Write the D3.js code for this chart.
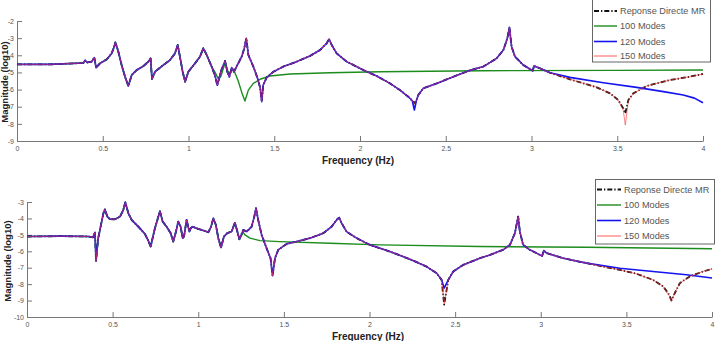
<!DOCTYPE html>
<html>
<head>
<meta charset="utf-8">
<script src="https://cdn.jsdelivr.net/npm/d3@7/dist/d3.min.js"></script>
<style>
  body { margin: 0; background: #fff; }
  svg { display: block; font-family: "Liberation Sans", Arial, sans-serif; }
</style>
</head>
<body>
<div id="chart"></div>
<script>
// Series names, in legend order
const seriesNames = ["Reponse Directe MR", "100 Modes", "120 Modes", "150 Modes"];

// Tick values
const freqTicks = [0, 0.5, 1, 1.5, 2, 2.5, 3, 3.5, 4];
const topMagTicks = [-9, -8, -7, -6, -5, -4, -3, -2];
const bottomMagTicks = [-10, -9, -8, -7, -6, -5, -4, -3];

// ---- Top plot: [frequency (Hz), magnitude (log10)] ----
// part common to all the responses
const topShared = [
  [0, -4.53], [0.19, -4.53], [0.387, -4.45], [0.397, -4.3], [0.41, -4.42], [0.435, -4.37],
  [0.451, -4.14], [0.461, -4.72], [0.484, -4.47], [0.523, -4.24], [0.552, -3.89], [0.565, -3.55],
  [0.573, -3.25], [0.582, -3.5], [0.591, -3.79], [0.61, -4.57], [0.63, -5.25], [0.649, -5.79],
  [0.669, -5.15], [0.698, -4.86], [0.737, -4.63], [0.766, -4.37], [0.779, -4.18], [0.787, -5.38],
  [0.805, -4.96], [0.853, -4.57], [0.892, -4.28], [0.921, -3.89], [0.937, -3.4], [0.95, -4.08],
  [0.966, -4.96], [0.98, -5.54], [0.999, -4.96], [1.038, -4.47], [1.067, -4.08], [1.086, -3.59],
  [1.106, -3.98], [1.135, -4.66], [1.155, -5.2], [1.168, -5.75], [1.19, -4.9], [1.213, -4.33],
  [1.226, -4.96], [1.238, -5.25], [1.252, -4.72], [1.265, -4.96], [1.29, -4.47], [1.31, -4.08],
  [1.325, -3.6], [1.337, -3.01], [1.349, -3.98], [1.378, -4.66], [1.403, -5.35], [1.418, -5.9],
  [1.427, -6.71], [1.436, -5.73], [1.456, -5.29], [1.495, -4.96], [1.553, -4.66], [1.631, -4.37],
  [1.708, -4.04], [1.767, -3.69], [1.806, -3.3], [1.819, -3.05], [1.835, -3.4], [1.864, -3.89],
  [1.922, -4.37], [2.019, -4.86], [2.097, -5.21], [2.175, -5.64], [2.233, -6.03], [2.282, -6.42],
  [2.305, -6.65]
];
const topShared2 = [
  [2.33, -6.6], [2.34, -6.32], [2.369, -5.93], [2.447, -5.64], [2.544, -5.25], [2.641, -4.88],
  [2.719, -4.66], [2.797, -4.18], [2.836, -3.69], [2.859, -3.01], [2.871, -2.37], [2.884, -3.5],
  [2.904, -4.08], [2.952, -4.57], [3.0, -4.86], [3.008, -4.9], [3.014, -4.62], [3.03, -4.68],
  [3.059, -4.8], [3.108, -5.02]
];
// anti-resonance near 2.32 Hz
const topDip = { direct: [2.317, -6.8], m120: [2.317, -7.19], m150: [2.317, -6.85] };
const topDirectTail = [
  [3.224, -5.4], [3.38, -5.87], [3.458, -6.22], [3.506, -6.61], [3.535, -7.1], [3.547, -7.39],
  [3.565, -6.61], [3.594, -6.22], [3.672, -5.79], [3.808, -5.44], [3.924, -5.25], [4.0, -5.09]
];
const top150Tail = [
  [3.224, -5.4], [3.38, -5.87], [3.458, -6.22], [3.506, -6.63], [3.535, -7.2], [3.547, -8.07],
  [3.565, -6.63], [3.594, -6.22], [3.672, -5.79], [3.808, -5.44], [3.924, -5.25], [4.0, -5.09]
];
const top120Tail = [
  [3.224, -5.29], [3.419, -5.6], [3.613, -5.87], [3.769, -6.12], [3.885, -6.32], [3.95, -6.5], [4.0, -6.77]
];
const top100Tail = [
  [1.155, -5.0], [1.175, -5.4], [1.19, -5.2], [1.205, -4.7], [1.215, -4.45], [1.23, -4.95],
  [1.245, -5.05], [1.258, -4.8], [1.27, -5.0], [1.29, -5.5], [1.31, -6.15], [1.329, -6.67],
  [1.349, -6.03], [1.378, -5.64], [1.417, -5.4], [1.475, -5.21], [1.592, -5.09], [1.825, -5.02],
  [2.117, -4.96], [2.7, -4.9], [3.5, -4.88], [4.0, -4.86]
];

// ---- Bottom plot ----
const bottomShared = [
  [0, -5.1], [0.2, -5.08], [0.36, -5.1], [0.385, -5.15], [0.397, -4.85], [0.403, -6.58],
  [0.409, -5.9], [0.416, -5.2], [0.436, -4.19], [0.446, -3.69], [0.455, -3.45], [0.469, -3.89],
  [0.485, -4.05], [0.514, -4.05], [0.543, -3.89], [0.562, -3.49], [0.574, -3.02], [0.592, -3.69],
  [0.611, -4.09], [0.65, -4.5], [0.689, -4.95], [0.708, -5.35], [0.722, -5.71], [0.747, -4.6],
  [0.767, -3.89], [0.776, -3.55], [0.792, -4.19], [0.815, -4.5], [0.839, -4.9], [0.854, -5.41],
  [0.87, -4.8], [0.883, -4.19], [0.897, -4.5], [0.909, -5.2], [0.917, -5.1], [0.932, -4.09],
  [0.948, -4.8], [0.956, -4.6], [0.967, -4.5], [1.0, -4.64], [1.039, -4.76], [1.059, -4.84],
  [1.075, -4.5], [1.088, -3.99], [1.103, -4.4], [1.117, -5.2], [1.133, -5.77], [1.15, -5.1],
  [1.169, -4.9], [1.195, -4.8], [1.214, -4.26], [1.226, -4.7], [1.24, -5.27], [1.263, -4.7],
  [1.283, -4.8], [1.312, -4.5], [1.327, -3.9], [1.337, -3.38], [1.35, -4.09], [1.37, -5.0],
  [1.399, -5.81], [1.422, -6.42], [1.434, -7.49], [1.448, -6.42], [1.467, -5.91], [1.516, -5.55],
  [1.574, -5.41], [1.652, -5.2], [1.73, -4.9], [1.779, -4.5], [1.808, -4.09], [1.823, -3.95],
  [1.837, -4.29], [1.866, -4.8], [1.925, -5.2], [2.002, -5.61], [2.119, -6.02], [2.236, -6.48],
  [2.333, -6.93], [2.392, -7.33], [2.421, -7.74]
];
const bottomShared2 = [
  [2.46, -7.74], [2.489, -7.23], [2.547, -6.83], [2.644, -6.42], [2.703, -6.22], [2.78, -5.91],
  [2.82, -5.61], [2.849, -4.9], [2.868, -3.89], [2.878, -4.8], [2.897, -5.61], [2.936, -5.91],
  [2.995, -6.22], [3.008, -6.28], [3.018, -5.95], [3.034, -6.11], [3.131, -6.42], [3.267, -6.72]
];
const bottomDip = { direct: [2.436, -9.25], m120: [2.436, -8.24], m150: [2.436, -9.2] };
const bottomDirectTail = [
  [3.364, -6.93], [3.462, -7.13], [3.559, -7.37], [3.656, -7.74], [3.715, -8.14], [3.75, -8.65],
  [3.763, -8.99], [3.783, -8.54], [3.812, -7.94], [3.87, -7.53], [3.948, -7.23], [4.0, -7.07]
];
const bottom150Tail = [
  [3.364, -6.93], [3.462, -7.13], [3.559, -7.37], [3.656, -7.74], [3.715, -8.14], [3.75, -8.7],
  [3.763, -9.05], [3.783, -8.54], [3.812, -7.94], [3.87, -7.53], [3.948, -7.23], [4.0, -7.07]
];
const bottom120Tail = [[3.462, -7.03], [3.656, -7.23], [3.851, -7.43], [4.0, -7.63]];
const bottom100Tail = [
  [1.263, -4.85], [1.273, -5.0], [1.302, -5.2], [1.36, -5.35], [1.477, -5.41], [1.769, -5.51],
  [2.061, -5.61], [2.644, -5.71], [3.267, -5.75], [4.0, -5.85]
];

// line styles per series
const styles = {
  "Reponse Directe MR": { color: "#111", width: 1.8, dash: "5,2,1.3,2", opacity: 1 },
  "100 Modes": { color: "#1c8c1c", width: 1.4, dash: null, opacity: 1 },
  "120 Modes": { color: "#1414f0", width: 1.6, dash: null, opacity: 1 },
  "150 Modes": { color: "#ff3030", width: 1, dash: null, opacity: 0.6 }
};

const svg = d3.select("#chart").append("svg")
    .attr("width", 715)
    .attr("height", 341);

drawPanel({
    x0: 17, x1: 703, yTop: 21, yBottom: 141,
    yDomain: [-9, -2], yTicks: topMagTicks,
    series: {
        "Reponse Directe MR": [...topShared, topDip.direct, ...topShared2, ...topDirectTail],
        "100 Modes": [...topShared.filter(d => d[0] <= 1.135), ...top100Tail],
        "120 Modes": [...topShared, topDip.m120, ...topShared2, ...top120Tail],
        "150 Modes": [...topShared, topDip.m150, ...topShared2, ...top150Tail]
    },
    xLabel: { x: 358, y: 164 },
    yLabel: { x: 8, y: 82 },
    legend: { x: 592.5, y: -1, w: 118, h: 63, rows: [11, 26, 41.5, 56], lx: 594, lw: 23, tx: 620 }
});

drawPanel({
    x0: 27, x1: 712, yTop: 202, yBottom: 317,
    yDomain: [-10, -3], yTicks: bottomMagTicks,
    series: {
        "Reponse Directe MR": [...bottomShared, bottomDip.direct, ...bottomShared2, ...bottomDirectTail],
        "100 Modes": [...bottomShared.filter(d => d[0] <= 1.24), ...bottom100Tail],
        "120 Modes": [...bottomShared, bottomDip.m120, ...bottomShared2, ...bottom120Tail],
        "150 Modes": [...bottomShared, bottomDip.m150, ...bottomShared2, ...bottom150Tail]
    },
    xLabel: { x: 368, y: 339.5 },
    yLabel: { x: 11, y: 261 },
    legend: { x: 595.5, y: 179.5, w: 119, h: 64.5, rows: [189.5, 205, 220.5, 236], lx: 597, lw: 24, tx: 624 }
});

function drawPanel(p) {
    const x = d3.scaleLinear().domain([0, 4]).range([p.x0, p.x1]);
    const y = d3.scaleLinear().domain(p.yDomain).range([p.yBottom, p.yTop]);

    // axes (MATLAB style, ticks inside)
    const xAxis = svg.append("g")
        .attr("transform", `translate(0,${p.yBottom})`)
        .call(d3.axisBottom(x).tickValues(freqTicks).tickSizeInner(-5).tickSizeOuter(0)
            .tickPadding(5).tickFormat(d => String(d)));
    const yAxis = svg.append("g")
        .attr("transform", `translate(${p.x0},0)`)
        .call(d3.axisLeft(y).tickValues(p.yTicks).tickSizeInner(-5).tickSizeOuter(0)
            .tickPadding(3).tickFormat(d => String(d)));
    [xAxis, yAxis].forEach(g => {
        g.select(".domain").attr("stroke", "#777");
        g.selectAll(".tick line").attr("stroke", "#777");
        g.selectAll(".tick text").attr("fill", "#555").style("font-size", "7px");
    });

    // curves
    const line = d3.line().x(d => x(d[0])).y(d => y(d[1]));
    seriesNames.forEach(name => {
        const s = styles[name];
        svg.append("path")
            .datum(p.series[name])
            .attr("fill", "none")
            .attr("stroke", s.color)
            .attr("stroke-width", s.width)
            .attr("stroke-opacity", s.opacity)
            .attr("stroke-dasharray", s.dash)
            .attr("stroke-linejoin", "round")
            .attr("d", line);
    });

    // axis titles
    svg.append("text")
        .attr("x", p.xLabel.x)
        .attr("y", p.xLabel.y)
        .attr("text-anchor", "middle")
        .style("font-size", "10px")
        .style("font-weight", "bold")
        .attr("fill", "#222")
        .text("Frequency (Hz)");

    svg.append("text")
        .attr("transform", `translate(${p.yLabel.x},${p.yLabel.y}) rotate(-90)`)
        .attr("text-anchor", "middle")
        .style("font-size", "9.5px")
        .style("font-weight", "bold")
        .attr("fill", "#222")
        .text("Magnitude (log10)");

    // legend
    const lg = p.legend;
    svg.append("rect")
        .attr("x", lg.x).attr("y", lg.y)
        .attr("width", lg.w).attr("height", lg.h)
        .attr("fill", "#fff")
        .attr("stroke", "#666");
    seriesNames.forEach((name, i) => {
        const s = styles[name];
        svg.append("line")
            .attr("x1", lg.lx).attr("x2", lg.lx + lg.lw)
            .attr("y1", lg.rows[i]).attr("y2", lg.rows[i])
            .attr("stroke", s.color)
            .attr("stroke-width", name === "150 Modes" ? 1 : s.width)
            .attr("stroke-opacity", name === "150 Modes" ? 0.8 : 1)
            .attr("stroke-dasharray", s.dash);
        svg.append("text")
            .attr("x", lg.tx)
            .attr("y", lg.rows[i])
            .attr("dy", "0.35em")
            .style("font-size", "9.2px")
            .attr("fill", "#555")
            .text(name);
    });
}
</script>
</body>
</html>
